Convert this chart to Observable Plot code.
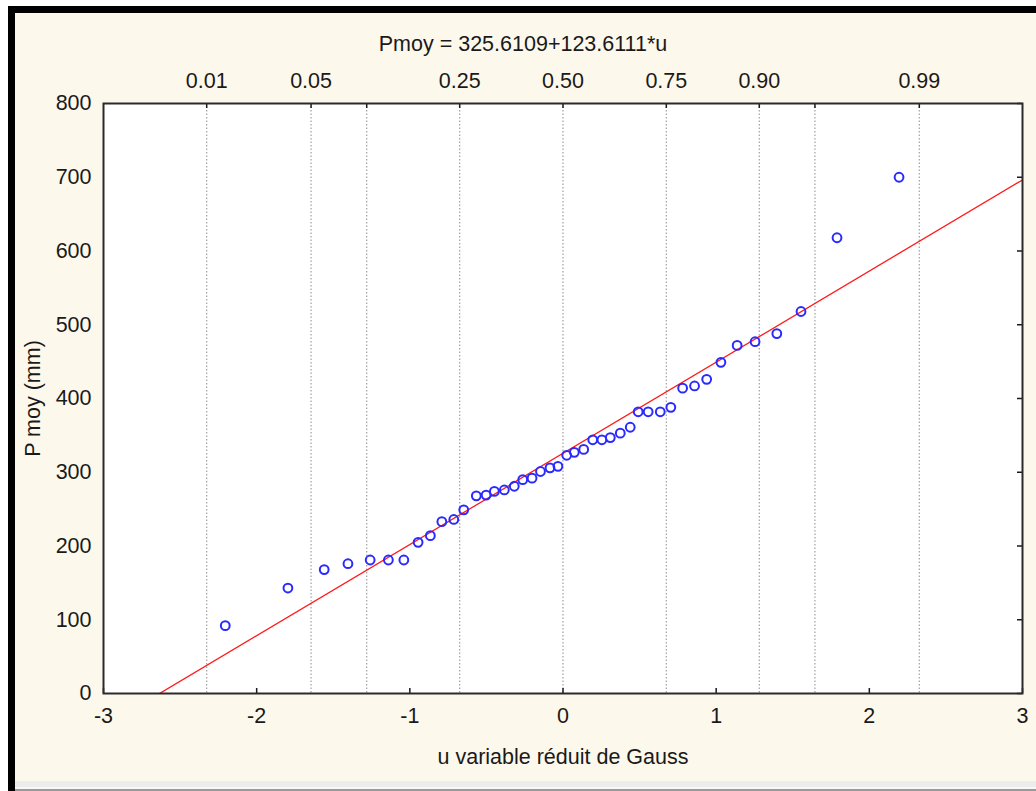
<!DOCTYPE html>
<html>
<head>
<meta charset="utf-8">
<script src="https://cdn.jsdelivr.net/npm/d3@7"></script>
<script src="https://cdn.jsdelivr.net/npm/@observablehq/plot@0.6"></script>
<style>
html,body{margin:0;padding:0;background:#fff;}
#page{position:relative;width:1036px;height:791px;overflow:hidden;background:#fff;font-family:"Liberation Sans",Arial,sans-serif;}
#panel{position:absolute;left:8px;top:6px;right:0;bottom:0;background:#fdf8ec;border-left:7px solid #000;border-top:7px solid #000;}
#strip{position:absolute;left:15px;right:0;top:781px;height:10px;background:linear-gradient(#ececec 0 6px,#f8f8f8 6px 8px,#9a9a9a 8px 10px);}
#chart{position:absolute;left:0;top:0;}
</style>
</head>
<body>
<div id="page">
  <div id="panel"></div>
  <div id="strip"></div>
  <div id="chart"></div>
</div>
<script>
// Observed data: reduced Gauss variable u and mean precipitation P (mm)
const uValues = [-2.205,-1.796,-1.559,-1.404,-1.259,-1.140,-1.039,-0.946,-0.866,-0.791,-0.713,-0.648,-0.566,-0.502,-0.448,-0.383,-0.318,-0.263,-0.202,-0.147,-0.085,-0.033,0.024,0.074,0.135,0.194,0.254,0.309,0.374,0.439,0.491,0.556,0.635,0.704,0.781,0.859,0.938,1.031,1.137,1.254,1.396,1.554,1.789,2.194];
const pValues = [92,143,168,176,181,181,181,205,214,233,236,249,268,269,274,276,281,290,292,301,306,308,323,327,331,344,344,347,353,361,382,382,382,388,414,417,426,449,472,477,488,518,618,700];

// Fitted line Pmoy = intercept + slope*u
const intercept = 325.6109;
const slope = 123.6111;
const lineU = [-3, 3];

// Axis ticks
const xTicks = [-3, -2, -1, 0, 1, 2, 3];
const yTicks = [0, 100, 200, 300, 400, 500, 600, 700, 800];

// Probability scale (top): probabilities and their u values
const probU = [-2.3263, -1.6449, -1.2816, -0.6745, 0, 0.6745, 1.2816, 1.6449, 2.3263];
const probLabels = ["0.01", "0.05", "", "0.25", "0.50", "0.75", "0.90", "", "0.99"];

const titleText = "Pmoy = 325.6109+123.6111*u";
const xLabel = "u variable réduit de Gauss";
const yLabel = "P moy (mm)";

const points = uValues.map((u, i) => ({u, p: pValues[i]}));
const fit = lineU.map(u => ({u, p: intercept + slope * u}));
const probs = probU.map((u, i) => ({u, label: probLabels[i]}));

const W = 1036, H = 781;
const mT = 103, mB = 88, mL = 103, mR = 14;
const plotH = H - mT - mB, plotW = W - mL - mR;
const font = "'Liberation Sans', Arial, sans-serif";
const fs = 21.5;
const ink = "#1a1a1a";

const chart = Plot.plot({
  width: W,
  height: H,
  marginTop: mT,
  marginBottom: mB,
  marginLeft: mL,
  marginRight: mR,
  style: {background: "transparent", fontFamily: font, fontSize: fs + "px", color: ink, overflow: "visible"},
  x: {domain: [-3, 3]},
  y: {domain: [0, 800]},
  marks: [
    Plot.frame({fill: "white", stroke: "none"}),
    Plot.ruleX(probs, {x: "u", stroke: "#a0a0a0", strokeDasharray: "1.5,2", strokeWidth: 1.2}),
    // inward ticks
    Plot.tickX(probs, {x: "u", stroke: ink, strokeWidth: 1.5, insetBottom: plotH - 5}),
    Plot.tickX(xTicks, {x: d => d, stroke: ink, strokeWidth: 1.5, insetTop: plotH - 5}),
    Plot.tickY(yTicks, {y: d => d, stroke: ink, strokeWidth: 1.5, insetLeft: plotW - 5}),
    Plot.line(fit, {x: "u", y: "p", stroke: "#ff1a1a", strokeWidth: 1.3, clip: true}),
    Plot.dot(points, {x: "u", y: "p", r: 4.4, stroke: "#2a2aff", strokeWidth: 2, fill: "none"}),
    Plot.frame({stroke: "#2a2a2a", strokeWidth: 2}),
    Plot.axisX({anchor: "bottom", ticks: xTicks, tickSize: 0, tickPadding: 14, fontSize: fs, label: null, tickFormat: d => String(d).replace("−", "-")}),
    Plot.axisY({anchor: "left", ticks: yTicks, tickSize: 0, tickPadding: 12, fontSize: fs, label: null}),
    Plot.text(probs, {x: "u", frameAnchor: "top", text: "label", lineAnchor: "bottom", dy: -16, fontSize: fs, fill: ink}),
    Plot.text([titleText], {frameAnchor: "top", text: d => d, lineAnchor: "bottom", dx: -40, dy: -53, fontSize: fs, fill: ink}),
    Plot.text([xLabel], {frameAnchor: "bottom", text: d => d, lineAnchor: "top", dy: 55, fontSize: fs, fill: ink}),
    Plot.text([yLabel], {frameAnchor: "left", text: d => d, rotate: -90, textAnchor: "middle", dx: -70, fontSize: fs, fill: ink})
  ]
});
document.getElementById("chart").appendChild(chart);
</script>
</body>
</html>
